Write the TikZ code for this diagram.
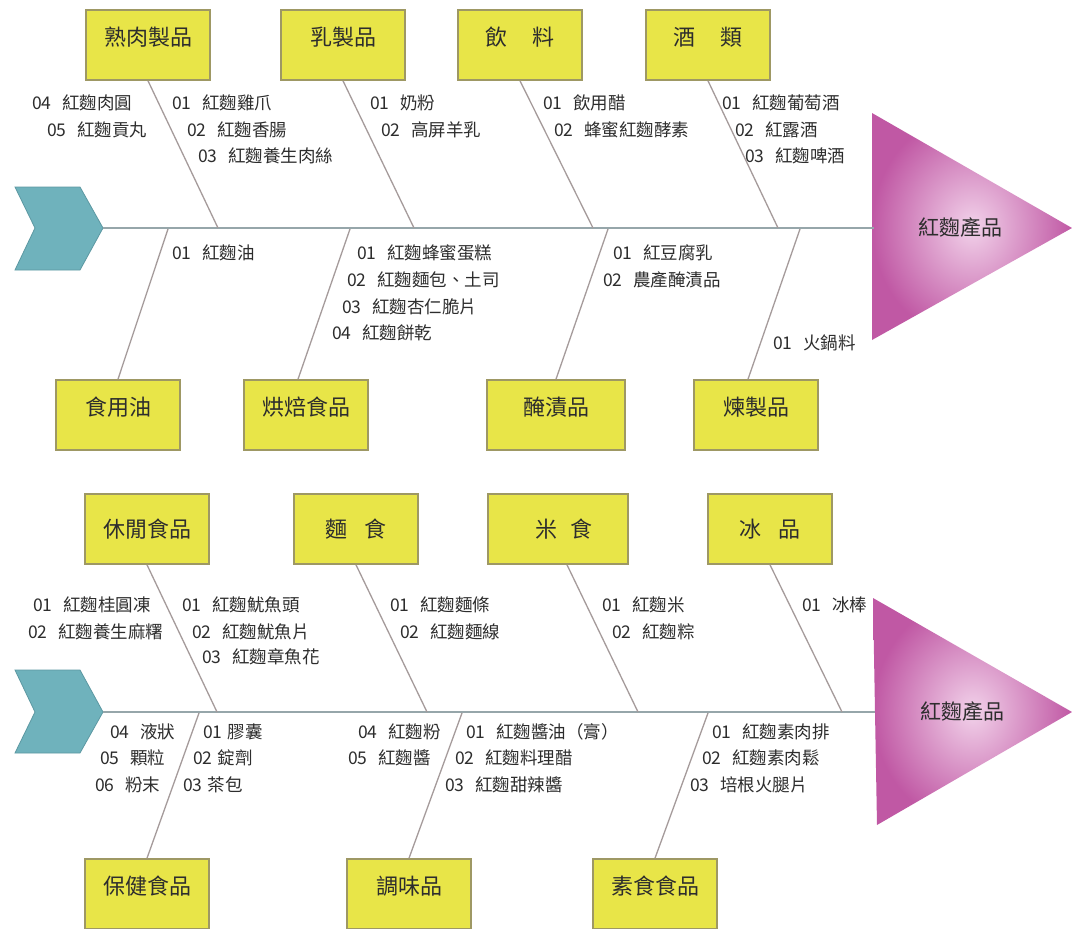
\documentclass[tikz,border=0pt]{standalone}
\usepackage{fontspec}
\setmainfont{Noto Sans CJK TC}
\usetikzlibrary{calc}
\definecolor{boxfill}{RGB}{232,229,72}
\definecolor{boxedge}{RGB}{158,152,100}
\definecolor{chevfill}{RGB}{111,178,188}
\definecolor{chevedge}{RGB}{92,152,162}
\definecolor{bonec}{RGB}{165,155,155}
\definecolor{spinec}{RGB}{150,166,170}
\definecolor{txt}{RGB}{45,45,45}
\definecolor{triout}{RGB}{192,88,164}
\definecolor{triin}{RGB}{242,210,234}
\begin{document}
\begin{tikzpicture}[x=1pt,y=-1pt,
  box/.style={draw=boxedge, line width=1.6pt, fill=boxfill, minimum width=124pt, minimum height=70pt, inner sep=0pt, font=\fontsize{22}{22}\selectfont, text=txt},
  boxup/.style={box, text depth=17pt},
  lbl/.style={anchor=west, inner sep=0pt, font=\fontsize{17.5}{17.5}\selectfont, text=txt},
  bone/.style={draw=bonec, line width=1.3pt},
  spine/.style={draw=spinec, line width=1.8pt},
  chev/.style={fill=chevfill, draw=chevedge, line width=0.8pt},
  head/.style={inner sep=0pt, font=\fontsize{21}{21}\selectfont, text=txt}]
\useasboundingbox (0,0) rectangle (1072,929);
\fill[white] (0,0) rectangle (1072,929);

% ================= upper diagram =================
\draw[chev] (15,187) -- (80,187) -- (103,228) -- (80,270) -- (15,270) -- (35,228) -- cycle;
\coordinate (s1) at (103,228);
\shade[inner color=triin, outer color=triout] (872,113) -- (1072,228) -- (872,340) -- cycle;
\coordinate (e1) at (874,228);
\draw[spine] (s1) -- (e1);
\node[head] (h1) at (960,228) {紅麴產品};

\node[boxup] (b11) at (148,45) {熟肉製品};
\node[boxup] (b12) at (343,45) {乳製品};
\node[boxup] (b13) at (520,45) {飲\hspace{1.15em}料};
\node[boxup] (b14) at (708,45) {酒\hspace{1.15em}類};
\node[boxup] (b15) at (118,415) {食用油};
\node[boxup] (b16) at (306,415) {烘焙食品};
\node[boxup, minimum width=138pt] (b17) at (556,415) {醃漬品};
\node[boxup] (b18) at (756,415) {煉製品};

\coordinate (c11) at (218,228);
\coordinate (c12) at (414,228);
\coordinate (c13) at (593,228);
\coordinate (c14) at (778,228);
\coordinate (c15) at (168,229);
\coordinate (c16) at (350,229);
\coordinate (c17) at (608,229);
\coordinate (c18) at (800,229);
\draw[bone] (b11.south) -- (c11);
\draw[bone] (b12.south) -- (c12);
\draw[bone] (b13.south) -- (c13);
\draw[bone] (b14.south) -- (c14);
\draw[bone] (b15.north) -- (c15);
\draw[bone] ($(b16.north)+(-8,0)$) -- (c16);
\draw[bone] (b17.north) -- (c17);
\draw[bone] ($(b18.north)+(-8,0)$) -- (c18);

\node[lbl] (l1) at (32,103) {04\hspace{0.6em}紅麴肉圓};
\node[lbl] (l2) at (47,130) {05\hspace{0.6em}紅麴貢丸};
\node[lbl] (l3) at (172,103) {01\hspace{0.6em}紅麴雞爪};
\node[lbl] (l4) at (187,130) {02\hspace{0.6em}紅麴香腸};
\node[lbl] (l5) at (198,156) {03\hspace{0.6em}紅麴養生肉絲};
\node[lbl] (l6) at (370,103) {01\hspace{0.6em}奶粉};
\node[lbl] (l7) at (381,130) {02\hspace{0.6em}高屏羊乳};
\node[lbl] (l8) at (543,103) {01\hspace{0.6em}飲用醋};
\node[lbl] (l9) at (554,130) {02\hspace{0.6em}蜂蜜紅麴酵素};
\node[lbl] (l10) at (722,103) {01\hspace{0.6em}紅麴葡萄酒};
\node[lbl] (l11) at (735,130) {02\hspace{0.6em}紅露酒};
\node[lbl] (l12) at (745,156) {03\hspace{0.6em}紅麴啤酒};
\node[lbl] (l13) at (172,253) {01\hspace{0.6em}紅麴油};
\node[lbl] (l14) at (357,253) {01\hspace{0.6em}紅麴蜂蜜蛋糕};
\node[lbl] (l15) at (347,280) {02\hspace{0.6em}紅麴麵包、土司};
\node[lbl] (l16) at (342,307) {03\hspace{0.6em}紅麴杏仁脆片};
\node[lbl] (l17) at (332,333) {04\hspace{0.6em}紅麴餅乾};
\node[lbl] (l18) at (613,253) {01\hspace{0.6em}紅豆腐乳};
\node[lbl] (l19) at (603,280) {02\hspace{0.6em}農產醃漬品};
\node[lbl] (l20) at (773,343) {01\hspace{0.6em}火鍋料};

% ================= lower diagram =================
\draw[chev] (15,670) -- (80,670) -- (103,712) -- (80,753) -- (15,753) -- (35,712) -- cycle;
\coordinate (s2) at (103,712);
\shade[inner color=triin, outer color=triout] (873,598) -- (1072,712) -- (877,825) -- cycle;
\coordinate (e2) at (875,712);
\draw[spine] (s2) -- (e2);
\node[head] (h2) at (962,712) {紅麴產品};

\node[box] (b21) at (147,529) {休閒食品};
\node[box] (b22) at (356,529) {麵\hspace{0.8em}食};
\node[box, minimum width=140pt] (b23) at (558,529) {\hspace{12pt}米\hspace{0.6em}食};
\node[box] (b24) at (770,529) {冰\hspace{0.8em}品};
\node[boxup] (b25) at (147,894) {保健食品};
\node[boxup] (b26) at (409,894) {調味品};
\node[boxup] (b27) at (655,894) {素食食品};

\coordinate (c21) at (217,712);
\coordinate (c22) at (427,712);
\coordinate (c23) at (638,712);
\coordinate (c24) at (842,712);
\coordinate (c25) at (199,713);
\coordinate (c26) at (462,713);
\coordinate (c27) at (708,713);
\draw[bone] (b21.south) -- (c21);
\draw[bone] (b22.south) -- (c22);
\draw[bone] ($(b23.south)+(9,0)$) -- (c23);
\draw[bone] (b24.south) -- (c24);
\draw[bone] (b25.north) -- (c25);
\draw[bone] (b26.north) -- (c26);
\draw[bone] (b27.north) -- (c27);

\node[lbl] (m1) at (33,605) {01\hspace{0.6em}紅麴桂圓凍};
\node[lbl] (m2) at (28,632) {02\hspace{0.6em}紅麴養生麻糬};
\node[lbl] (m3) at (182,605) {01\hspace{0.6em}紅麴魷魚頭};
\node[lbl] (m4) at (192,632) {02\hspace{0.6em}紅麴魷魚片};
\node[lbl] (m5) at (202,657) {03\hspace{0.6em}紅麴章魚花};
\node[lbl] (m6) at (390,605) {01\hspace{0.6em}紅麴麵條};
\node[lbl] (m7) at (400,632) {02\hspace{0.6em}紅麴麵線};
\node[lbl] (m8) at (602,605) {01\hspace{0.6em}紅麴米};
\node[lbl] (m9) at (612,632) {02\hspace{0.6em}紅麴粽};
\node[lbl] (m10) at (802,605) {01\hspace{0.6em}冰棒};
\node[lbl] (m11) at (110,732) {04\hspace{0.6em}液狀};
\node[lbl] (m12) at (100,758) {05\hspace{0.6em}顆粒};
\node[lbl] (m13) at (95,785) {06\hspace{0.6em}粉末};
\node[lbl] (m14) at (203,732) {01\hspace{0.3em}膠囊};
\node[lbl] (m15) at (193,758) {02\hspace{0.3em}錠劑};
\node[lbl] (m16) at (183,785) {03\hspace{0.3em}茶包};
\node[lbl] (m17) at (358,732) {04\hspace{0.6em}紅麴粉};
\node[lbl] (m18) at (348,758) {05\hspace{0.6em}紅麴醬};
\node[lbl] (m19) at (466,732) {01\hspace{0.6em}紅麴醬油（膏）};
\node[lbl] (m20) at (455,758) {02\hspace{0.6em}紅麴料理醋};
\node[lbl] (m21) at (445,785) {03\hspace{0.6em}紅麴甜辣醬};
\node[lbl] (m22) at (712,732) {01\hspace{0.6em}紅麴素肉排};
\node[lbl] (m23) at (702,758) {02\hspace{0.6em}紅麴素肉鬆};
\node[lbl] (m24) at (690,785) {03\hspace{0.6em}培根火腿片};
\end{tikzpicture}
\end{document}
